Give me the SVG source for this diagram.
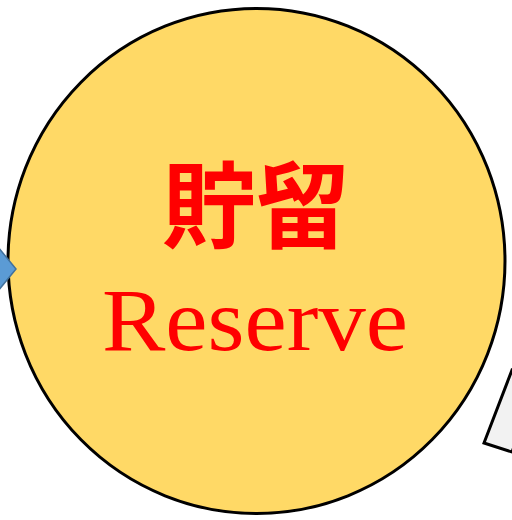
<svg xmlns="http://www.w3.org/2000/svg" width="512" height="520" viewBox="0 0 512 520">
<style>
.circle{fill:#FFD966;stroke:#000;stroke-width:3}
.jp{font-family:"Noto Sans CJK JP","Noto Sans CJK SC",sans-serif;font-weight:bold;fill:#FF0000}
.en{font-family:"Liberation Serif",serif;fill:#FF0000}
</style>
<rect width="512" height="520" fill="#fff"/>
<g id="box">
<polygon points="512,370 484,443 512,452 540,380" fill="#F2F2F2" stroke="#000" stroke-width="3"/>
</g>
<g id="reserve">
<ellipse class="circle" cx="256.5" cy="261" rx="248.5" ry="252.5"/>
<text class="jp" x="256" y="241" font-size="94" text-anchor="middle">貯留</text>
<text class="en" x="102" y="350" font-size="88" textLength="306" lengthAdjust="spacingAndGlyphs">Reserve</text>
</g>
<g id="connectors">
<polygon points="-2,247 16,269 -2,291" fill="#5B9BD5" stroke="#41719C" stroke-width="1.5"/>
</g>
</svg>
